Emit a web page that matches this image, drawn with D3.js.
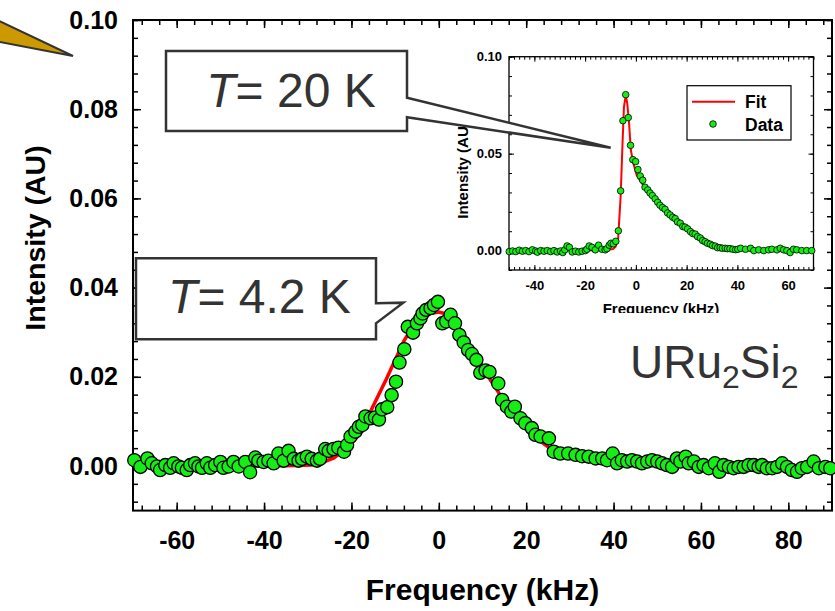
<!DOCTYPE html>
<html><head><meta charset="utf-8">
<script src="https://cdn.jsdelivr.net/npm/d3@7"></script>
<style>
html,body{margin:0;padding:0;background:#fff;}
svg{display:block;font-family:"Liberation Sans",Arial,sans-serif;}
</style></head>
<body>
<svg id="chart" width="835" height="611"></svg>
<script>
// ---------- DATA ----------
const mainFreq = [-69.7,-68.3,-66.7,-65.7,-64.5,-63.8,-62.6,-61.5,-60.7,-59.6,-58.8,-57.7,-56.9,-55.8,-55.0,-54.2,-53.1,-52.3,-51.2,-50.0,-49.3,-48.1,-47.0,-45.8,-44.3,-43.2,-42.0,-41.3,-40.1,-39.0,-37.8,-36.7,-35.5,-34.4,-33.2,-32.1,-31.3,-30.2,-29.1,-27.9,-27.2,-26.0,-25.2,-24.1,-23.0,-21.7,-21.0,-20.2,-19.1,-18.3,-17.5,-16.8,-15.6,-14.6,-13.7,-13.0,-11.8,-10.8,-9.8,-9.0,-7.9,-7.1,-5.9,-5.0,-4.2,-3.7,-2.9,-1.9,-1.1,-0.2,0.8,1.7,2.7,3.7,4.7,5.7,6.7,7.6,8.6,9.5,10.7,11.6,13.6,14.5,15.6,16.6,17.4,18.7,19.8,21.3,22.1,23.3,25.2,26.3,27.8,29.6,31.3,32.8,34.3,35.9,37.4,38.5,39.8,40.8,41.9,43.1,44.2,45.4,46.5,47.7,48.8,50.0,51.1,52.2,53.4,54.5,55.3,56.5,57.2,58.4,59.5,60.6,61.8,63.2,64.2,65.2,66.4,67.5,68.6,69.8,70.9,72.1,73.2,74.0,75.1,76.3,77.4,78.6,79.7,80.8,82.0,83.1,84.3,85.8,87.0,88.5,89.6];
const mainInt = [0.0013,-0.0002,0.0017,0.0006,-0.0001,-0.0009,0.0002,-0.0004,0.0006,-0.0001,-0.0004,-0.0009,0.0002,0.0006,-0.0001,-0.0004,0.0006,-0.0004,0.0002,0.0009,-0.0004,-0.0001,0.0009,-0.0001,0.0009,-0.0014,0.0019,0.0012,0.0009,0.0012,0.0006,0.0028,0.0012,0.0034,0.0016,0.0012,0.0016,0.0021,0.0016,0.0012,0.0016,0.0038,0.0034,0.0038,0.0041,0.0032,0.0047,0.0066,0.0077,0.0088,0.0092,0.0111,0.0107,0.0109,0.0104,0.0127,0.0132,0.0159,0.0189,0.0232,0.0262,0.0312,0.0299,0.0320,0.0331,0.0342,0.0350,0.0354,0.0361,0.0368,0.0320,0.0324,0.0339,0.0320,0.0294,0.0277,0.0260,0.0251,0.0238,0.0209,0.0214,0.0211,0.0185,0.0148,0.0133,0.0122,0.0133,0.0107,0.0096,0.0085,0.0070,0.0066,0.0062,0.0032,0.0028,0.0028,0.0025,0.0022,0.0021,0.0017,0.0017,0.0013,0.0028,0.0006,0.0013,0.0010,0.0013,0.0010,0.0006,0.0010,0.0013,0.0010,0.0006,0.0002,-0.0002,0.0017,0.0010,0.0021,0.0006,0.0010,-0.0002,0.0002,-0.0005,0.0006,-0.0013,0.0002,-0.0002,-0.0005,-0.0002,-0.0002,0.0002,0.0002,-0.0002,0.0002,-0.0005,-0.0005,-0.0002,0.0006,-0.0002,-0.0009,-0.0013,-0.0005,-0.0002,0.0010,-0.0005,-0.0002,-0.0005];

const fitFreq = [-70,-50,-40,-32,-28,-24,-20,-17,-15.5,-12,-8,-6,-4,-2,0,2,4,6,8,10,12,14,16,18,20,22,24,26,28,30,35,40,50,60,90];
const fitInt  = [0,0,0,0.0001,0.0003,0.0018,0.0050,0.0085,0.0125,0.0195,0.0280,0.0312,0.0332,0.0342,0.0345,0.0340,0.0320,0.0290,0.0255,0.0222,0.0190,0.0160,0.0130,0.0105,0.0085,0.0067,0.0050,0.0036,0.0026,0.0019,0.0010,0.0006,0.0003,0.0001,0];

const insetFreq = [-49.9,-48.6,-47.3,-46.0,-44.7,-43.4,-42.1,-40.8,-39.5,-38.8,-37.5,-36.2,-34.9,-33.6,-32.3,-31.0,-29.7,-28.8,-28.0,-27.1,-26.2,-25.1,-23.8,-22.5,-21.2,-19.9,-19.3,-18.4,-17.3,-16.0,-14.7,-13.4,-12.1,-11.4,-10.5,-9.8,-8.9,-7.9,-6.9,-6.0,-5.1,-4.0,-3.0,-2.1,-1.2,-0.1,0.8,1.7,2.7,3.6,4.7,5.6,6.5,7.6,8.6,9.5,10.5,11.5,12.5,13.5,14.5,15.5,16.4,17.5,18.5,19.4,20.4,21.5,22.4,23.4,24.3,25.4,26.3,27.3,28.2,29.3,30.2,31.3,32.2,33.2,34.1,35.2,36.1,37.1,38.2,39.3,40.2,41.3,43.2,45.2,46.5,48.4,50.4,52.3,53.6,55.6,56.9,58.2,59.5,60.8,62.1,63.4,65.4,67.3,69.3];
const insetInt = [-0.0005,-0.0002,-0.0005,0.0002,-0.0003,0.0000,-0.0005,0.0004,-0.0002,-0.0008,0.0000,-0.0003,0.0000,-0.0005,0.0000,-0.0007,-0.0002,-0.0010,0.0004,0.0024,0.0017,-0.0007,-0.0003,-0.0007,-0.0003,0.0000,0.0007,0.0024,0.0017,0.0004,0.0028,0.0007,0.0004,0.0010,0.0028,0.0038,0.0035,0.0048,0.0102,0.0308,0.0670,0.0804,0.0686,0.0543,0.0469,0.0459,0.0418,0.0385,0.0363,0.0327,0.0313,0.0297,0.0284,0.0267,0.0249,0.0234,0.0222,0.0213,0.0194,0.0184,0.0172,0.0165,0.0148,0.0141,0.0124,0.0121,0.0112,0.0098,0.0088,0.0085,0.0072,0.0065,0.0052,0.0046,0.0038,0.0033,0.0026,0.0023,0.0015,0.0015,0.0012,0.0012,0.0010,0.0010,0.0007,0.0005,0.0007,0.0012,0.0007,0.0012,0.0000,0.0004,0.0000,0.0004,0.0007,0.0004,0.0012,0.0004,0.0000,-0.0010,0.0007,0.0004,0.0000,0.0000,0.0000];

const insetFitFreq = [-50,-20,-12,-9,-8,-7,-6,-5.3,-4.7,-4.0,-3.4,-2.7,-2.0,-1.0,0.3,2.2,5,10,15,20,25,28,30,33,36,40,70];
const insetFitInt  = [0,0,0.0003,0.0008,0.0020,0.0060,0.0280,0.0540,0.0740,0.0800,0.0760,0.0660,0.0520,0.0450,0.0390,0.0350,0.0300,0.0225,0.0170,0.0115,0.0068,0.0042,0.0027,0.0012,0.0004,0.0001,0];

const mainXMajor = [-60,-40,-20,0,20,40,60,80];
const mainYMajor = [0.00,0.02,0.04,0.06,0.08,0.10];
const insetXMajor = [-40,-20,0,20,40,60];
const insetYMajor = [0.00,0.05,0.10];
const seriesNames = ["Fit","Data"];

// ---------- SETUP ----------
const svg = d3.select("#chart");
const TXT = "#333";
const GREEN = "#14ee14";
const intFmt = d => String(d);            // hyphen-minus like the original

function drawAxes(g, x, y, opt) {
  const [x0,x1] = x.range(), [y0,y1] = y.range();
  const xMinor = d3.range(opt.xMinorStart, opt.xMinorEnd + 1e-9, opt.xMinorStep);
  const yMinor = d3.range(opt.yMinorStart, opt.yMinorEnd + 1e-9, opt.yMinorStep);
  const mk = (axis, tr, vals, size, labels, pad, fmt) => {
    const a = axis.tickValues(vals).tickSizeInner(-size).tickSizeOuter(0).tickPadding(pad);
    a.tickFormat(labels ? fmt : () => "");
    const gg = g.append("g").attr("transform", tr).call(a);
    gg.select(".domain").remove();
    gg.selectAll("line").attr("stroke","#000").attr("stroke-width",opt.tickW);
    gg.selectAll("text").attr("fill","#000").attr("font-size",opt.fs).attr("font-weight","bold").attr("font-family","Liberation Sans, Arial, sans-serif");
    return gg;
  };
  mk(d3.axisBottom(x), `translate(0,${y0})`, xMinor, opt.minorLen, false, 0);
  mk(d3.axisBottom(x), `translate(0,${y0})`, opt.xMajor, opt.majorLen, true, opt.xPad, intFmt);
  mk(d3.axisTop(x), `translate(0,${y1})`, xMinor, opt.minorLen, false, 0);
  mk(d3.axisTop(x), `translate(0,${y1})`, opt.xMajor, opt.majorLen, false, 0);
  mk(d3.axisLeft(y), `translate(${x0},0)`, yMinor, opt.minorLen, false, 0);
  mk(d3.axisLeft(y), `translate(${x0},0)`, opt.yMajor, opt.majorLen, true, opt.yPad, d => d.toFixed(2));
  mk(d3.axisRight(y), `translate(${x1},0)`, yMinor, opt.minorLen, false, 0);
  mk(d3.axisRight(y), `translate(${x1},0)`, opt.yMajor, opt.majorLen, false, 0);
  g.append("rect").attr("x",x0).attr("y",y1).attr("width",x1-x0).attr("height",y0-y1)
    .attr("fill","none").attr("stroke","#000").attr("stroke-width",opt.frameW);
}

// ---------- MAIN PLOT ----------
const x = d3.scaleLinear().domain([-70,90]).range([133,832]);
const y = d3.scaleLinear().domain([-0.01,0.10]).range([510.6,20]);
const gMain = svg.append("g");
drawAxes(gMain, x, y, {
  xMinorStart:-68, xMinorEnd:88, xMinorStep:4, yMinorStart:-0.008, yMinorEnd:0.1, yMinorStep:0.004,
  xMajor: mainXMajor, yMajor: mainYMajor, minorLen:5, majorLen:8, tickW:1.5, frameW:2,
  fs:25, xPad:21, yPad:15
});

gMain.append("text").attr("x",482.5).attr("y",600).attr("text-anchor","middle")
  .attr("font-size",30).attr("font-weight","bold").attr("fill","#000").text("Frequency (kHz)");
gMain.append("text").attr("transform","translate(45,238) rotate(-90)").attr("text-anchor","middle")
  .attr("font-size",28.5).attr("font-weight","bold").attr("fill","#000").text("Intensity (AU)");

const line = d3.line().x((d,i)=>x(fitFreq[i])).y((d,i)=>y(fitInt[i]));
gMain.append("path").datum(fitInt).attr("d",line).attr("fill","none").attr("stroke","#ff0000").attr("stroke-width",3.5);

gMain.append("g").selectAll("circle").data(mainInt).join("circle")
  .attr("cx",(d,i)=>x(mainFreq[i])).attr("cy",d=>y(d)).attr("r",6.6)
  .attr("fill",GREEN).attr("stroke","#000").attr("stroke-width",1.3);

// ---------- INSET ----------
const xi = d3.scaleLinear().domain([-50,70]).range([509,813.5]);
const yi = d3.scaleLinear().domain([-0.01,0.10]).range([270,56.7]);
svg.append("clipPath").attr("id","insetClip").append("rect").attr("x",430).attr("y",30).attr("width",400).attr("height",283);
const gIn = svg.append("g").attr("clip-path","url(#insetClip)");
drawAxes(gIn, xi, yi, {
  xMinorStart:-50, xMinorEnd:70, xMinorStep:2, yMinorStart:-0.01, yMinorEnd:0.1, yMinorStep:0.01,
  xMajor: insetXMajor, yMajor: insetYMajor, minorLen:3, majorLen:5, tickW:1, frameW:1.3,
  fs:13, xPad:11, yPad:7
});
gIn.append("text").attr("x",661).attr("y",314).attr("text-anchor","middle")
  .attr("font-size",15).attr("font-weight","bold").attr("fill","#000").text("Frequency (kHz)");
gIn.append("text").attr("transform","translate(468,170) rotate(-90)").attr("text-anchor","middle")
  .attr("font-size",15).attr("font-weight","bold").attr("fill","#000").text("Intensity (AU)");

const lineI = d3.line().x((d,i)=>xi(insetFitFreq[i])).y((d,i)=>yi(insetFitInt[i]));
gIn.append("path").datum(insetFitInt).attr("d",lineI).attr("fill","none").attr("stroke","#ff0000").attr("stroke-width",2);
gIn.append("g").selectAll("circle").data(insetInt).join("circle")
  .attr("cx",(d,i)=>xi(insetFreq[i])).attr("cy",d=>yi(d)).attr("r",3.3)
  .attr("fill",GREEN).attr("stroke","#000").attr("stroke-width",0.8);

// legend
const lg = svg.append("g");
lg.append("rect").attr("x",687).attr("y",85.7).attr("width",104).attr("height",54.3)
  .attr("fill","#fff").attr("stroke","#000").attr("stroke-width",1.2);
lg.append("line").attr("x1",692).attr("x2",735).attr("y1",101.7).attr("y2",101.7).attr("stroke","#ff0000").attr("stroke-width",2);
lg.append("circle").attr("cx",713).attr("cy",124).attr("r",3.3).attr("fill",GREEN).attr("stroke","#000").attr("stroke-width",0.8);
lg.selectAll("text").data(seriesNames).join("text")
  .attr("x",745).attr("y",(d,i)=>[108,130.5][i]).attr("font-size",17.5).attr("font-weight","bold").attr("fill","#000").text(d=>d);

// ---------- ANNOTATIONS ----------
function callout(pts, label, tx, ty) {
  svg.append("path").attr("d","M"+pts.map(p=>p.join(",")).join("L")+"Z")
    .attr("fill","#fff").attr("stroke",TXT).attr("stroke-width",2.5).attr("stroke-linejoin","miter");
  const t = svg.append("text").attr("x",tx).attr("y",ty).attr("text-anchor","middle")
    .attr("font-size",48).attr("fill",TXT);
  t.append("tspan").attr("font-style","italic").text("T");
  t.append("tspan").text("= " + label);
}
callout([[166,51],[407,51],[407,97.7],[610.7,147.7],[407,117.3],[407,131],[166,131]], "20 K", 291, 107);
callout([[136,258.3],[376,258.3],[376,303.3],[403.3,302.7],[376,323.3],[376,339.3],[136,339.3]], "4.2 K", 259.5, 313);

const comp = svg.append("text").attr("x",630).attr("y",378).attr("font-size",46).attr("fill",TXT);
comp.append("tspan").text("URu");
comp.append("tspan").attr("font-size",32).attr("dy",10).text("2");
comp.append("tspan").attr("dy",-10).text("Si");
comp.append("tspan").attr("font-size",32).attr("dy",10).text("2");

svg.append("path").attr("d","M-5,19L73,56L-5,41Z").attr("fill","#cc9a00").attr("stroke",TXT).attr("stroke-width",2);
</script>
</body></html>
